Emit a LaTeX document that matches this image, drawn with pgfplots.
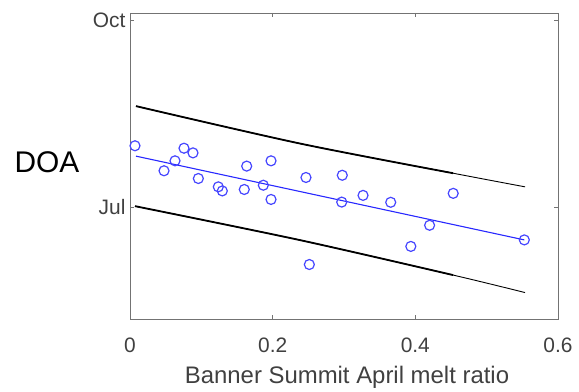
\documentclass[border=0pt]{standalone}
\usepackage{pgfplots}
\pgfplotsset{compat=1.18}
\usepackage{fontspec}
\setmainfont{Liberation Sans}

\definecolor{axgray}{gray}{0.45}
\definecolor{tickgray}{gray}{0.25}
\definecolor{ptblue}{RGB}{70,70,255}
\definecolor{fitblue}{RGB}{40,40,255}

\begin{document}
\begin{tikzpicture}
\begin{axis}[
  name=ax,
  scale only axis, width=428bp, height=306bp,
  xmin=0, xmax=0.6, ymin=127, ymax=277.5,
  xtick={0,0.2,0.4,0.6},
  xticklabels={0,0.2,0.4,0.6},
  ytick={182,274}, yticklabels={Jul,Oct},
  tick align=inside, tick pos=both,
  major tick length=4bp,
  every tick/.style={axgray, line width=0.6bp},
  axis line style={axgray, line width=0.8bp},
  tick label style={font=\fontsize{21}{24}\selectfont, text=tickgray},
  xticklabel style={yshift=-15bp},
  yticklabel style={xshift=-1bp},
  xlabel={Banner Summit April melt ratio},
  xlabel style={font=\fontsize{24}{28}\selectfont, text=tickgray,
    at={(axis description cs:0.507,-0.19)}, anchor=center},
  ylabel={DOA},
  ylabel style={font=\fontsize{30}{34}\selectfont, text=black, rotate=-90,
    at={(axis description cs:-0.194,0.513)}, anchor=center},
  clip=false,
]
% observations
\addplot[only marks, mark=o, mark size=5bp, mark options={ptblue, line width=1.2bp}]
coordinates {
(0.0070,212.2) (0.0477,199.9) (0.0631,204.8) (0.0757,211.0) (0.0883,208.7)
(0.0958,196.1) (0.1238,192.0) (0.1294,190.0) (0.1602,190.7) (0.1636,202.2)
(0.1869,192.8) (0.1977,204.8) (0.1977,185.8) (0.2467,196.6) (0.2976,197.7)
(0.2968,184.5) (0.3267,187.8) (0.3655,184.4) (0.4531,188.8) (0.4200,173.1)
(0.3937,162.7) (0.5528,165.9) (0.2514,153.8)
};
% regression fit
\addplot[fitblue, line width=1.1bp] coordinates {(0.0084,207.1) (0.5528,165.9)};
% prediction bounds
\addplot[black, line width=0.9bp, smooth] coordinates {(0.0084,231.7) (0.2383,213.3) (0.453,198.7) (0.5538,192.0)};
\addplot[black, line width=1.8bp, smooth] coordinates {(0.0084,231.7) (0.2383,213.3) (0.453,198.7)};
\addplot[black, line width=0.9bp, smooth] coordinates {(0.0070,182.5) (0.2383,165.8) (0.453,148.6) (0.5538,140.0)};
\addplot[black, line width=1.8bp, smooth] coordinates {(0.0070,182.5) (0.2383,165.8) (0.453,148.6)};
\end{axis}
\pgfresetboundingbox
\path[use as bounding box] ([xshift=-130bp,yshift=-73bp]ax.south west) rectangle ++(579bp,392bp);
\end{tikzpicture}
\end{document}
